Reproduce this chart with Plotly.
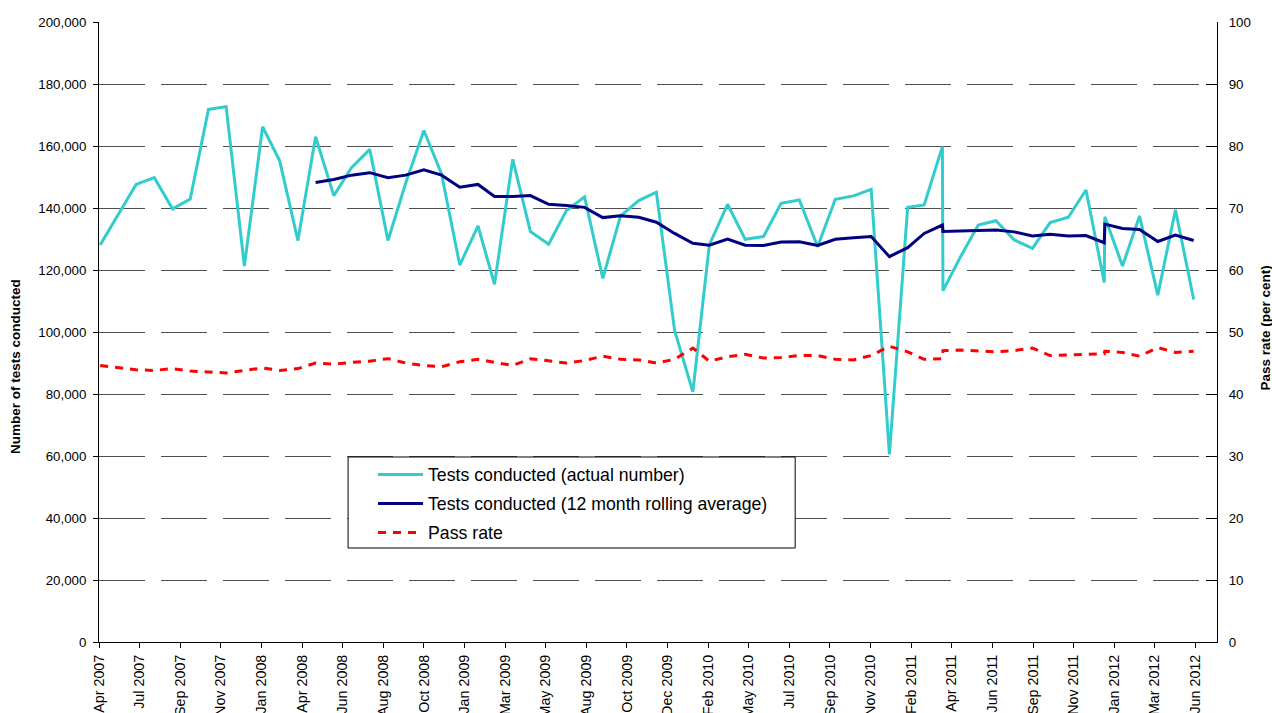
import plotly.graph_objects as go
from datetime import datetime, timedelta

# ---- data ----
dates = [
    "2007-04-30", "2007-06-30", "2007-07-31", "2007-08-31", "2007-09-30", "2007-10-31",
    "2007-11-30", "2007-12-31", "2008-01-31", "2008-02-29", "2008-03-31", "2008-04-30",
    "2008-05-31", "2008-06-30", "2008-07-31", "2008-08-31", "2008-09-30", "2008-10-31",
    "2008-11-30", "2008-12-31", "2009-01-31", "2009-02-28", "2009-03-31", "2009-04-30",
    "2009-05-31", "2009-06-30", "2009-07-31", "2009-08-31", "2009-09-30", "2009-10-31",
    "2009-11-30", "2009-12-31", "2010-01-31", "2010-02-28", "2010-03-31", "2010-04-30",
    "2010-05-31", "2010-06-30", "2010-07-31", "2010-08-31", "2010-09-30", "2010-10-31",
    "2010-11-30", "2010-12-31", "2011-01-31", "2011-02-28", "2011-03-31", "2011-04-01",
    "2011-04-30", "2011-05-31", "2011-06-30", "2011-07-31", "2011-08-31", "2011-09-30",
    "2011-10-31", "2011-11-30", "2011-12-31", "2012-01-01", "2012-01-31", "2012-02-29",
    "2012-03-31", "2012-04-30", "2012-05-31",
]

tests_actual = [
    128100, 147600, 149800, 139700, 142900, 171800, 172700, 121300, 166200, 155200,
    129500, 163000, 144000, 153000, 158900, 129500, 148000, 165000, 151000, 121600,
    134200, 115400, 155700, 132400, 128300, 139100, 143600, 117300, 137400, 142400,
    145100, 100500, 80700, 128100, 141200, 129900, 130800, 141500, 142600, 127500,
    142800, 143900, 146000, 60500, 140200, 141000, 159800, 113300, 124000, 134500,
    135900, 129700, 127000, 135300, 137000, 145800, 116000, 137200, 121300, 137400,
    111900, 139400, 110500,
]

tests_rolling = [
    None, None, None, None, None, None, None, None, None, None, None,
    148200, 149200, 150600, 151400, 149800, 150600, 152300, 150600, 146700, 147600,
    143700, 143700, 144000, 141200, 140800, 140200, 136900, 137500, 137000, 135400,
    131800, 128600, 128000, 130000, 128000, 127900, 129000, 129100, 127900, 129900,
    130400, 130800, 124300, 127200, 131800, 134500, 132400, 132500, 132600, 132900,
    132300, 131000, 131500, 131000, 131100, 128800, 134800, 133400, 133100, 129200,
    131300, 129500,
]

pass_rate = [
    44.6, 43.9, 43.8, 44.1, 43.7, 43.5, 43.4, 43.8, 44.2, 43.8,
    44.1, 45.0, 44.8, 45.1, 45.3, 45.7, 45.0, 44.6, 44.4, 45.2,
    45.6, 45.1, 44.6, 45.7, 45.4, 45.0, 45.4, 46.1, 45.6, 45.5,
    45.0, 45.6, 47.4, 45.3, 46.0, 46.4, 45.8, 45.9, 46.2, 46.2,
    45.6, 45.5, 46.2, 47.7, 46.8, 45.6, 45.7, 47.0, 47.1, 47.0,
    46.8, 47.0, 47.4, 46.2, 46.3, 46.3, 46.5, 46.9, 46.7, 46.1,
    47.5, 46.7, 46.9,
]

tick_labels = [
    "Apr 2007", "Jul 2007", "Sep 2007", "Nov 2007", "Jan 2008", "Apr 2008", "Jun 2008",
    "Aug 2008", "Oct 2008", "Jan 2009", "Mar 2009", "May 2009", "Aug 2009", "Oct 2009",
    "Dec 2009", "Feb 2010", "May 2010", "Jul 2010", "Sep 2010", "Nov 2010", "Feb 2011",
    "Apr 2011", "Jun 2011", "Sep 2011", "Nov 2011", "Jan 2012", "Mar 2012", "Jun 2012",
]

left_ticks = list(range(0, 200001, 20000))
right_ticks = list(range(0, 101, 10))

# date axis: major unit of 69 days from the axis minimum
axis_start = datetime(2007, 4, 28)
axis_end = datetime(2012, 7, 9, 14)
tick_step_days = 69
tickvals = [axis_start + timedelta(days=tick_step_days * k) for k in range(len(tick_labels))]

FONT = "Liberation Sans, Arial, sans-serif"
X_TICK_SIZE = 14.3
Y_TICK_SIZE = 13.3

fig = go.Figure()
fig.add_trace(go.Scatter(
    x=dates, y=tests_actual, mode="lines", name="Tests conducted (actual number)",
    line=dict(color="#33CCCC", width=3), legendgroup="a", yaxis="y",
))
fig.add_trace(go.Scatter(
    x=dates, y=tests_rolling, mode="lines", name="Tests conducted (12 month rolling average)",
    line=dict(color="#000080", width=3), legendgroup="b", yaxis="y",
))
fig.add_trace(go.Scatter(
    x=dates, y=pass_rate, mode="lines", name="Pass rate",
    line=dict(color="#FF0000", width=3, dash="8px,7px"), legendgroup="c", yaxis="y2",
))

fig.update_layout(
    width=1272, height=713,
    margin=dict(l=99, r=55, t=22, b=71, autoexpand=False),
    paper_bgcolor="white", plot_bgcolor="white",
    font=dict(family=FONT, color="black", size=Y_TICK_SIZE),
    showlegend=True,
    hovermode=False,
    legend=dict(
        x=0.2451, y=0.2992, xanchor="left", yanchor="top",
        bgcolor="rgba(0,0,0,0)", borderwidth=0,
        font=dict(size=17.7, family=FONT, color="black"),
        traceorder="grouped", tracegroupgap=3, itemwidth=45,
    ),
    xaxis=dict(
        type="date", range=[axis_start, axis_end],
        tickmode="array", tickvals=tickvals, ticktext=tick_labels,
        tickangle=-90, tickfont=dict(size=X_TICK_SIZE),
        showgrid=False, zeroline=False,
        showline=True, linecolor="black", linewidth=1,
        ticks="outside", ticklen=5, tickcolor="black", tickwidth=1,
        ticklabelstandoff=1,
        automargin=False,
    ),
    yaxis=dict(
        range=[0, 200000], tickmode="array", tickvals=left_ticks,
        tickformat=",d", tickfont=dict(size=Y_TICK_SIZE),
        showgrid=True, gridcolor="#505050", gridwidth=1, griddash="46px,16px",
        zeroline=False, showline=True, linecolor="black", linewidth=1,
        ticks="outside", ticklen=5, tickcolor="black",
        ticklabelstandoff=4,
        automargin=False,
    ),
    yaxis2=dict(
        range=[0, 100], tickmode="array", tickvals=right_ticks,
        overlaying="y", side="right", tickfont=dict(size=Y_TICK_SIZE),
        showgrid=False, zeroline=False, showline=True, linecolor="black", linewidth=1,
        ticks="inside", ticklen=11, tickcolor="black",
        ticklabelstandoff=8,
        automargin=False,
    ),
    shapes=[dict(
        type="rect", xref="paper", yref="paper",
        x0=0.2228, x1=0.6227, y0=0.1516, y1=0.2984,
        line=dict(color="black", width=1), fillcolor="white", layer="above",
    )],
    annotations=[
        dict(text="<b>Number of tests conducted</b>", xref="paper", yref="paper",
             x=-0.0752, y=0.445, textangle=-90, showarrow=False,
             xanchor="center", yanchor="middle", font=dict(size=13.5, family=FONT)),
        dict(text="<b>Pass rate (per cent)</b>", xref="paper", yref="paper",
             x=1.0432, y=0.506, textangle=-90, showarrow=False,
             xanchor="center", yanchor="middle", font=dict(size=13.5, family=FONT)),
    ],
)

fig.write_html(
    "out.html",
    config={"responsive": False, "displayModeBar": False, "staticPlot": True},
    post_script="document.body.style.margin='0';document.body.style.overflow='hidden';",
)
